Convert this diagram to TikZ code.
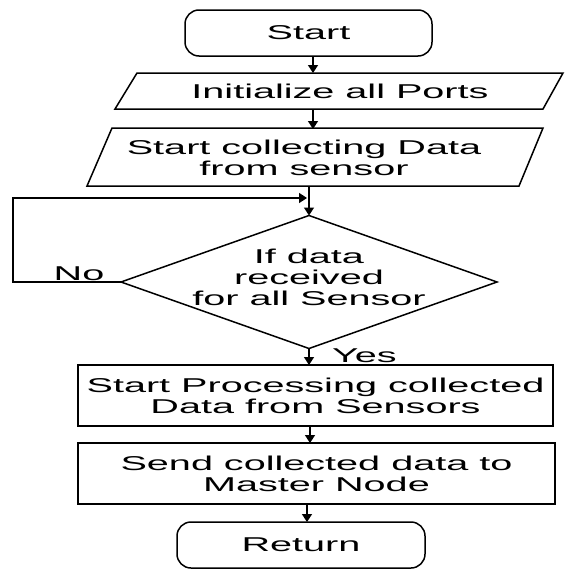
\documentclass[tikz,border=0pt]{standalone}
\usepackage{fontspec}
\setmainfont{Liberation Sans}[FakeStretch=1.98]
\usetikzlibrary{arrows.meta,shapes.geometric}
\begin{document}
\begin{tikzpicture}[x=1pt,y=-1pt,
  line width=1.5pt,
  txt/.style={font=\fontsize{20}{21}\selectfont, align=center, inner sep=0pt, outer sep=0pt},
  term/.style={draw, rectangle, rounded corners=14pt, inner sep=0pt, outer sep=0pt},
  procbox/.style={draw, rectangle, inner sep=0pt, outer sep=0pt},
  frame/.style={rectangle, inner sep=0pt, outer sep=0pt},
  arr/.style={-{Triangle[width=10pt,length=8pt]}},
]
\useasboundingbox (0,0) rectangle (566,570);
% Start
\node[term, txt, minimum width=247pt, minimum height=46pt] (start) at (308.5,33) {Start};
% Initialize (parallelogram)
\draw (137,73) -- (563,73) -- (543,109) -- (115,109) -- cycle;
\node[frame, txt, minimum width=400pt, minimum height=36pt] (init) at (340,91) {Initialize all Ports};
% Collect (parallelogram)
\draw (112,128) -- (543,128) -- (519,186) -- (87,186) -- cycle;
\node[frame, txt, minimum width=380pt, minimum height=58pt] (collect) at (304,158) {Start collecting Data\\from sensor};
% Decision
\node[diamond, draw, minimum width=376pt, minimum height=133pt, inner sep=0pt, outer sep=0pt] (dec) at (309,282) {};
\node[txt] (dectext) at (309,277) {If data\\received\\for all Sensor};
\coordinate (loopin) at (307,198);
% Process
\node[procbox, txt, minimum width=475pt, minimum height=61pt] (proc) at (315.5,395.5) {Start Processing collected\\Data from Sensors};
% Send
\node[procbox, txt, minimum width=477pt, minimum height=61pt] (send) at (316.5,473.5) {Send collected data to\\Master Node};
% Return
\node[term, txt, minimum width=248pt, minimum height=46pt] (ret) at (301,545) {Return};
% labels
\node[txt, anchor=base] (no) at (79,280) {No};
\node[txt, anchor=base west] (yes) at (332,362) {Yes};
% connectors
\draw[arr] (start.south -| 313,0) -- (init.north -| 313,0);
\draw[arr] (init.south -| 313,0) -- (collect.north -| 313,0);
\draw[arr] (collect.south -| 309,0) -- (dec.north);
\draw[arr] (dec.west) -- ++(-108,0) |- (loopin);
\draw[arr] (dec.south) -- (proc.north -| dec.south);
\draw[arr] (proc.south -| 310,0) -- (send.north -| 310,0);
\draw[arr] (send.south -| 307,0) -- (ret.north -| 307,0);
\end{tikzpicture}
\end{document}
